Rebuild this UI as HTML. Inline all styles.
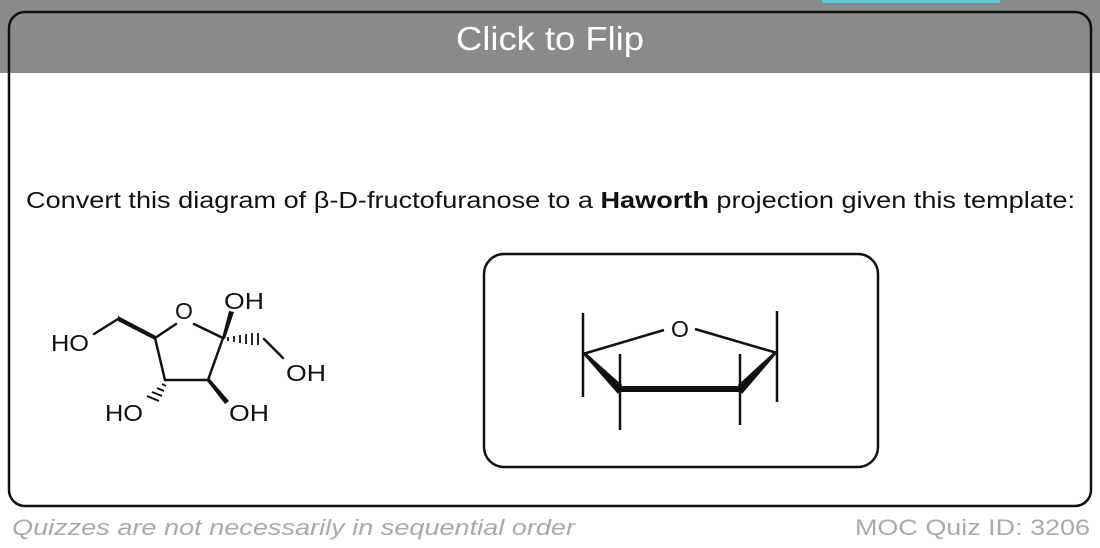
<!DOCTYPE html>
<html><head><style>
html,body{margin:0;padding:0;background:#fff;width:1100px;height:548px;overflow:hidden}
svg{display:block}
</style></head><body>
<svg width="1100" height="548" viewBox="0 0 1100 548" xmlns="http://www.w3.org/2000/svg" font-family="Liberation Sans, Arial, sans-serif">
<rect x="0" y="0" width="1100" height="548" fill="#fff"/>
<rect x="0" y="0" width="1100" height="73" fill="#8a8a8a"/>
<rect x="822" y="0" width="178" height="3" rx="1" fill="#4fd0d8"/>
<rect x="9" y="12" width="1082" height="494" rx="16" fill="none" stroke="#111" stroke-width="2.5"/>
<text x="456" y="50" fill="#fff" font-size="33" textLength="188" lengthAdjust="spacingAndGlyphs">Click to Flip</text>
<text x="26" y="208" font-size="23" fill="#111" textLength="1049" lengthAdjust="spacingAndGlyphs">Convert this diagram of β-D-fructofuranose to a <tspan font-weight="bold">Haworth</tspan> projection given this template:</text>

<g stroke="#111" stroke-width="2.5" fill="none" stroke-linecap="round">
 <line x1="94" y1="334" x2="118" y2="319"/>
 <line x1="155" y1="338" x2="176" y2="324"/>
 <line x1="194" y1="324" x2="223" y2="338"/>
 <line x1="223" y1="338" x2="208" y2="380"/>
 <line x1="208" y1="380" x2="165" y2="380"/>
 <line x1="165" y1="380" x2="155" y2="338"/>
 <line x1="264" y1="339" x2="283" y2="358"/>
</g>
<g fill="#111">
 <polygon points="118,316 118,321 155,340 156,336"/>
 <polygon points="222,338 225,339 234,312 229,311"/>
 <polygon points="207,381 210,379 229,401 225,404"/>
</g>
<g stroke="#111" stroke-width="1.8">
 <line x1="228" y1="337" x2="228" y2="341"/>
 <line x1="234" y1="336" x2="234" y2="342"/>
 <line x1="240" y1="335" x2="240" y2="343"/>
 <line x1="246" y1="334" x2="246" y2="344"/>
 <line x1="252" y1="333" x2="252" y2="345"/>
 <line x1="258" y1="333" x2="258" y2="345"/>
 <line x1="162" y1="384" x2="166" y2="386"/>
 <line x1="157" y1="388" x2="164" y2="391"/>
 <line x1="152" y1="392" x2="162" y2="396"/>
 <line x1="147" y1="396" x2="159" y2="401"/>
</g>
<g font-size="23" fill="#111">
 <text x="51" y="351" textLength="38" lengthAdjust="spacingAndGlyphs">HO</text>
 <text x="175" y="319">O</text>
 <text x="224" y="309" textLength="40" lengthAdjust="spacingAndGlyphs">OH</text>
 <text x="286" y="381" textLength="40" lengthAdjust="spacingAndGlyphs">OH</text>
 <text x="105" y="421" textLength="38" lengthAdjust="spacingAndGlyphs">HO</text>
 <text x="229" y="421" textLength="40" lengthAdjust="spacingAndGlyphs">OH</text>
</g>

<rect x="484" y="254" width="394" height="213" rx="20" fill="none" stroke="#111" stroke-width="2.5"/>
<g stroke="#111" stroke-width="2.5" fill="none">
 <line x1="583" y1="313" x2="583" y2="397"/>
 <line x1="777" y1="311" x2="777" y2="402"/>
 <line x1="620" y1="354" x2="620" y2="430"/>
 <line x1="740" y1="354" x2="740" y2="425"/>
 <line x1="583" y1="354" x2="664" y2="330"/>
 <line x1="695" y1="329" x2="777" y2="353"/>
 <line x1="620" y1="389" x2="740" y2="389" stroke-width="6"/>
</g>
<g fill="#111">
 <polygon points="582,353 585,352 622,385 618,394"/>
 <polygon points="778,352 775,351 738,385 742,394"/>
</g>
<text x="680" y="337" font-size="23" text-anchor="middle" fill="#111">O</text>

<text x="12" y="535" font-size="22" font-style="italic" fill="#aaa" textLength="563" lengthAdjust="spacingAndGlyphs">Quizzes are not necessarily in sequential order</text>
<text x="855" y="535" font-size="22" fill="#aaa" textLength="235" lengthAdjust="spacingAndGlyphs">MOC Quiz ID: 3206</text>
</svg>
</body></html>
